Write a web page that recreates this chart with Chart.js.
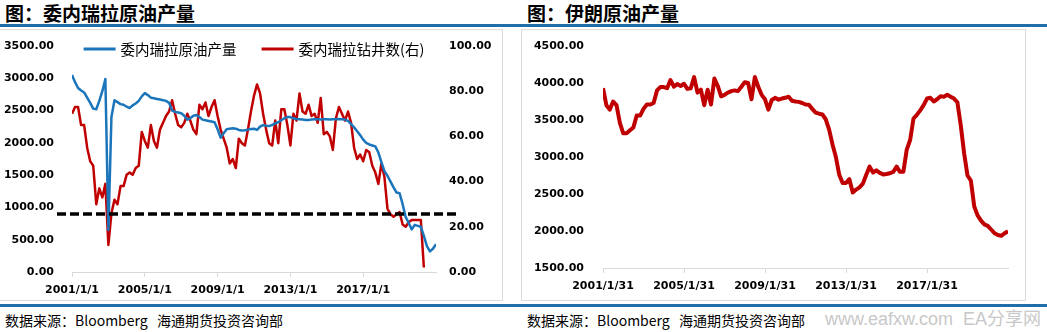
<!DOCTYPE html>
<html>
<head>
<meta charset="utf-8">
<script src="https://cdn.jsdelivr.net/npm/chart.js@4.4.1/dist/chart.umd.min.js"></script>
<style>
  body { margin: 0; width: 1047px; height: 332px; background: #fff; position: relative; overflow: hidden; font-family: "Noto Sans CJK SC", sans-serif; }
  .title { position: absolute; top: 2px; font-size: 19px; font-weight: bold; line-height: 21px; color: #000; white-space: nowrap; }
  .rule { position: absolute; left: 0; width: 1047px; height: 3px; background: #1f6ea9; }
  .box { position: absolute; top: 29px; height: 272px; border: 1px solid #dcdcdc; box-sizing: border-box; }
  canvas { position: absolute; }
  .src { position: absolute; top: 312px; font-size: 14px; line-height: 16px; color: #000; white-space: nowrap; }
  .wm { position: absolute; top: 309px; right: 6px; font-size: 18px; line-height: 20px; color: #c8c8c8; white-space: nowrap; font-family: "Liberation Sans", "Noto Sans CJK SC", sans-serif; }
</style>
</head>
<body>
<div class="title" style="left:5px">图：委内瑞拉原油产量</div>
<div class="title" style="left:527px">图：伊朗原油产量</div>
<div class="rule" style="top:24px"></div>
<div class="box" style="left:-1px;width:504px"></div>
<div class="box" style="left:521px;width:505px"></div>
<canvas id="veChart" width="502" height="270" style="left:0;top:30px"></canvas>
<canvas id="irChart" width="503" height="270" style="left:522px;top:30px"></canvas>
<div class="rule" style="top:304px"></div>
<div class="src" style="left:5px">数据来源：Bloomberg&nbsp;&nbsp;&nbsp;海通期货投资咨询部</div>
<div class="src" style="left:527px">数据来源：Bloomberg&nbsp;&nbsp;&nbsp;海通期货投资咨询部</div>
<div class="wm">www.eafxw.com&nbsp;&nbsp;EA分享网</div>

<script>
// data: one value every 2 months, starting Jan 2001
const startYear = 2001;
const endYear = 2021;
const stepMonths = 2;
const xTickYears = [2001, 2005, 2009, 2013, 2017];

// Venezuela crude output (left axis)
const veProduction = [
  3050, 2940, 2850, 2810, 2780, 2700,
  2620, 2530, 2520, 2650, 2800, 2990,
  650, 2400, 2660, 2630, 2600, 2590,
  2560, 2540, 2580, 2610, 2650, 2720,
  2770, 2740, 2700, 2690, 2680, 2670,
  2660, 2650, 2620, 2500, 2480, 2470,
  2460, 2420, 2360, 2380, 2420, 2430,
  2400, 2360, 2350, 2340, 2330, 2320,
  2210, 2080, 2150, 2210, 2220, 2225,
  2220, 2200, 2190, 2195, 2205, 2215,
  2220, 2200, 2250, 2275, 2265, 2260,
  2280, 2300, 2320, 2350, 2380, 2400,
  2400, 2380, 2370, 2365, 2360, 2355,
  2355, 2360, 2365, 2365, 2360, 2365,
  2365, 2360, 2365, 2365, 2368, 2365,
  2360, 2340, 2290, 2240, 2180, 2120,
  2050, 2000, 1975, 1960, 1945, 1850,
  1700, 1560, 1490, 1400, 1310, 1230,
  1220, 1050, 850, 760, 660, 730,
  715, 700, 560, 400, 320, 360,
  430
];

// Venezuela rig count (right axis)
const veRigs = [
  70, 73, 73, 65, 65, 55,
  49, 47, 30, 37, 33, 39,
  12, 26, 32, 30, 38, 38,
  43, 44, 43, 46, 47, 62,
  58, 55, 65, 58, 55, 63,
  66, 69, 71, 76, 70, 65,
  64, 66, 70, 67, 63, 61,
  74, 72, 75, 69, 73, 76,
  69, 63, 59, 55, 48, 50,
  46, 59, 57, 56, 63, 71,
  78, 83, 79, 70, 63, 57,
  56, 67, 57, 72, 72, 65,
  56, 70, 67, 79, 71, 70,
  74, 69, 70, 66, 77, 61,
  62, 60, 54, 68, 73, 70,
  67, 71, 66, 55, 50, 52,
  49, 54, 53, 47, 44, 39,
  48, 42, 28, 25.5, 24.5, 25.5,
  26.5, 21, 20, 22, 23, 23,
  23, 23, 2
];

// Iran crude output
const irProduction = [
  3930, 3700, 3640, 3750, 3700, 3460,
  3320, 3320, 3360, 3400, 3560, 3560,
  3650, 3710, 3710, 3730, 3900, 3945,
  3945, 3930, 4040, 3950, 3985, 3960,
  3990, 3920, 3930, 4080, 3870, 3910,
  3700, 3910, 3710, 4060, 3960, 3820,
  3840, 3870, 3890, 3900, 3890, 3950,
  4010, 4000, 3780, 4080, 3950, 3840,
  3780, 3640, 3770, 3800, 3775, 3790,
  3800, 3815, 3760, 3750, 3745, 3730,
  3710, 3705, 3650, 3600, 3585, 3575,
  3510, 3370, 3170, 3000, 2760, 2650,
  2650, 2700, 2520, 2560, 2590, 2640,
  2760, 2870, 2790, 2820, 2785, 2765,
  2770, 2780, 2800, 2870, 2800, 2800,
  3100, 3230, 3520, 3570, 3630, 3700,
  3790, 3800, 3750, 3780, 3820, 3815,
  3840, 3815, 3790, 3740, 3430, 3050,
  2750, 2680, 2330, 2210, 2140, 2090,
  2070, 2020, 1970, 1945, 1935, 1970,
  1995
];

const refLevel = 900;   // dashed reference line, left axis

const tickFont = { family: 'DejaVu Sans', size: 11, weight: 'bold' };

function toPoints(values) {
  return values.map((v, i) => ({ x: i * stepMonths, y: v }));
}

// fixed width, and keep tick padding from pushing the plot down
function fixWidth(w) {
  return function (s) {
    s.width = w;
    s.paddingTop = 0;
    s.paddingBottom = 0;
  };
}

function xScale(height, suffix) {
  return {
    type: 'linear',
    min: 0,
    max: (endYear - startYear) * 12,
    afterBuildTicks: function (s) {
      s.ticks = xTickYears.map(y => ({ value: (y - startYear) * 12 }));
    },
    ticks: {
      autoSkip: false, maxRotation: 0, padding: 7, font: tickFont, color: '#000',
      callback: v => (startYear + v / 12) + suffix
    },
    grid: { display: true, drawOnChartArea: false, drawTicks: true, tickLength: 5, color: '#d9d9d9' },
    border: { display: true, color: '#d9d9d9' },
    afterFit: function (s) { s.height = height; }
  };
}

const refLine = {
  id: 'refLine',
  afterDatasetsDraw(chart) {
    const ctx = chart.ctx, a = chart.chartArea;
    const y = chart.scales.y.getPixelForValue(refLevel);
    ctx.save();
    ctx.setLineDash([9, 4]);
    ctx.lineWidth = 3.5;
    ctx.strokeStyle = '#000';
    ctx.beginPath();
    ctx.moveTo(a.left - 15, y);
    ctx.lineTo(a.right + 24, y);
    ctx.stroke();
    ctx.restore();
  }
};

const lineLegend = {
  id: 'lineLegend',
  afterDraw(chart) {
    const ctx = chart.ctx, a = chart.chartArea;
    ctx.save();
    ctx.font = '14.5px "Noto Sans CJK SC"';
    const items = chart.data.datasets.map(d => ({ label: d.label, color: d.borderColor, w: ctx.measureText(d.label).width }));
    const lineW = 32, gap = 5, itemGap = 25;
    let total = items.reduce((s, it) => s + lineW + gap + it.w, 0) + itemGap * (items.length - 1);
    let x = (a.left + a.right) / 2 - total / 2;
    const y = a.top + 3;
    ctx.textBaseline = 'middle';
    items.forEach(it => {
      ctx.strokeStyle = it.color;
      ctx.lineWidth = 3;
      ctx.beginPath();
      ctx.moveTo(x, y);
      ctx.lineTo(x + lineW, y);
      ctx.stroke();
      ctx.fillStyle = '#000';
      ctx.fillText(it.label, x + lineW + gap, y);
      x += lineW + gap + it.w + itemGap;
    });
    ctx.restore();
  }
};

const veChart = new Chart(document.getElementById('veChart'), {
  type: 'line',
  data: {
    datasets: [{
      label: '委内瑞拉原油产量',
      data: toPoints(veProduction),
      borderColor: '#1b75bb',
      borderWidth: 2.5,
      yAxisID: 'y'
    }, {
      label: '委内瑞拉钻井数(右)',
      data: toPoints(veRigs),
      borderColor: '#c00000',
      borderWidth: 2.5,
      yAxisID: 'y1'
    }]
  },
  options: {
    responsive: false,
    animation: false,
    devicePixelRatio: 1,
    layout: { padding: { top: 16, left: 0, right: 0, bottom: 0 } },
    elements: { point: { radius: 0 }, line: { tension: 0, borderJoinStyle: 'round' } },
    plugins: { legend: { display: false }, tooltip: { enabled: false } },
    scales: {
      x: xScale(28, '/1/1'),
      y: {
        position: 'left', min: 0, max: 3500,
        ticks: { stepSize: 500, padding: 18, font: tickFont, color: '#000', callback: v => v.toFixed(2) },
        grid: { display: false, drawTicks: false },
        border: { display: false },
        afterFit: fixWidth(72)
      },
      y1: {
        position: 'right', min: 0, max: 100,
        ticks: { stepSize: 20, padding: 13, font: tickFont, color: '#000', callback: v => v.toFixed(2) },
        grid: { display: false, drawTicks: false },
        border: { display: false },
        afterFit: fixWidth(66)
      }
    }
  },
  plugins: [refLine, lineLegend]
});

const irChart = new Chart(document.getElementById('irChart'), {
  type: 'line',
  data: {
    datasets: [{
      label: '伊朗原油产量',
      data: toPoints(irProduction),
      borderColor: '#c00000',
      borderWidth: 4
    }]
  },
  options: {
    responsive: false,
    animation: false,
    devicePixelRatio: 1,
    layout: { padding: { top: 16, left: 0, right: 17, bottom: 0 } },
    elements: { point: { radius: 0 }, line: { tension: 0, borderJoinStyle: 'round' } },
    plugins: { legend: { display: false }, tooltip: { enabled: false } },
    scales: {
      x: xScale(32, '/1/31'),
      y: {
        min: 1500, max: 4500,
        ticks: { stepSize: 500, padding: 19, font: tickFont, color: '#000', callback: v => v.toFixed(2) },
        grid: { display: false, drawTicks: false },
        border: { display: false },
        afterFit: fixWidth(81)
      }
    }
  }
});
</script>
</body>
</html>
